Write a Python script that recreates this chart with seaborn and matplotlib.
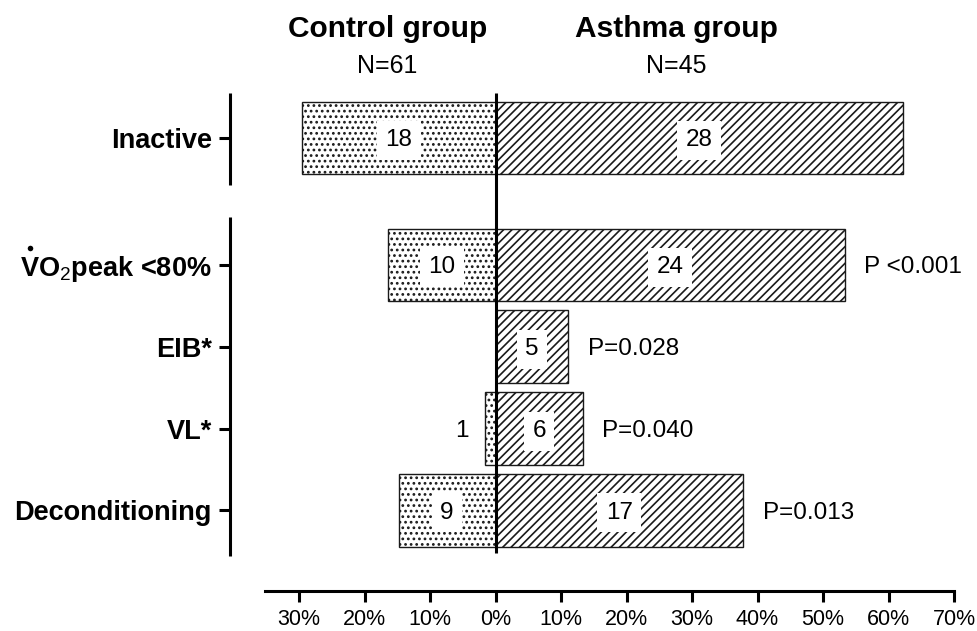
import matplotlib
matplotlib.use("Agg")
import matplotlib.pyplot as plt
import matplotlib.transforms as mtransforms
import pandas as pd
import seaborn as sns

# values (percent of each group, and the counts printed in the bars)
categories = ["Inactive", "VO$_{\\mathrm{2}}$peak <80%", "EIB*", "VL*", "Deconditioning"]
control_pct = [29.5, 16.4, 0.0, 1.6, 14.8]
asthma_pct = [62.2, 53.3, 11.1, 13.3, 37.8]
control_n = [18, 10, 0, 1, 9]
asthma_n = [28, 24, 5, 6, 17]
p_values = ["", "P <0.001", "P=0.028", "P=0.040", "P=0.013"]
x_ticks = [-30, -20, -10, 0, 10, 20, 30, 40, 50, 60, 70]
groups = ["Control group", "Asthma group"]
group_n = ["N=61", "N=45"]

sns.set_style("ticks")
plt.rcParams["font.family"] = ["Liberation Sans", "DejaVu Sans"]
plt.rcParams["mathtext.fontset"] = "custom"
plt.rcParams["mathtext.rm"] = "Liberation Sans"
plt.rcParams["mathtext.bf"] = "Liberation Sans:bold"
plt.rcParams["hatch.linewidth"] = 1.2
plt.rcParams["text.color"] = "black"
plt.rcParams["xtick.color"] = "black"
plt.rcParams["axes.edgecolor"] = "black"

# row layout: gap between "Inactive" and the other four rows
row_pos = [0.0] + [1.548 + i for i in range(4)]

df = pd.DataFrame({
    "row": row_pos,
    "control": [-v for v in control_pct],
    "asthma": asthma_pct,
})

fig = plt.figure(figsize=(9.77, 6.31), dpi=100)
ax = fig.add_axes([265 / 977, 1 - 591 / 631, 689 / 977, 498 / 631])

sns.barplot(data=df, x="control", y="row", orient="y", native_scale=True,
            width=0.885, color="white", edgecolor="#1a1a1a", linewidth=1.0,
            hatch="...", errorbar=None, ax=ax)
sns.barplot(data=df, x="asthma", y="row", orient="y", native_scale=True,
            width=0.885, color="white", edgecolor="#1a1a1a", linewidth=1.0,
            hatch="////", errorbar=None, ax=ax)

ax.set_xlim(-35.2, 70)
ax.set_ylim(5.531, -0.549)
ax.set_xlabel("")
ax.set_ylabel("")
ax.set_yticks([])
ax.set_xticks(x_ticks)
ax.set_xticklabels([f"{abs(t)}%" for t in x_ticks], fontsize=15.5)
ax.tick_params(axis="x", length=8, width=2.2, pad=5, colors="black")
for side in ["left", "top", "right"]:
    ax.spines[side].set_visible(False)
ax.spines["bottom"].set_linewidth(2.2)
ax.spines["bottom"].set_color("black")

# zero line between the two groups
ax.plot([0, 0], [-0.549, row_pos[-1] + 0.52], color="black", lw=2.2,
        solid_capstyle="butt", clip_on=False, zorder=5)

# split y axis drawn by hand, left of the plotting area
trans = mtransforms.blended_transform_factory(ax.transAxes, ax.transData)
sx = (229.5 - 265) / 689
tx = (219 - 265) / 689
lx = (212 - 265) / 689
for y0, y1 in [(row_pos[0] - 0.549, row_pos[0] + 0.574),
               (row_pos[1] - 0.58, row_pos[-1] + 0.555)]:
    ax.plot([sx, sx], [y0, y1], color="black", lw=2.2, transform=trans,
            clip_on=False, solid_capstyle="butt")
ylabels = []
for pos, lab in zip(row_pos, categories):
    ax.plot([sx, tx], [pos, pos], color="black", lw=2.2, transform=trans,
            clip_on=False, solid_capstyle="butt")
    t = ax.text(lx, pos, lab, ha="right", va="center_baseline", fontsize=19.5,
                fontweight="bold", transform=trans)
    ylabels.append(t)

# the dot over the V of VO2 (flow rate)
renderer = fig.canvas.get_renderer()
bb = ylabels[1].get_window_extent(renderer=renderer)
dot_x = bb.x0 + 10
dot_y = trans.transform((0, row_pos[1]))[1] + 17
fx, fy = fig.transFigure.inverted().transform((dot_x, dot_y))
ax.plot([fx], [fy], "o", color="black", ms=4.0, mew=0,
        transform=fig.transFigure, clip_on=False)

box = dict(boxstyle="square,pad=0.35", fc="white", ec="none")
for pos, cp, ap, cn, an, p in zip(row_pos, control_pct, asthma_pct,
                                  control_n, asthma_n, p_values):
    if cn > 0:
        if cp >= 5:
            ax.text(-cp / 2, pos, str(cn), ha="center", va="center_baseline",
                    fontsize=17.5, bbox=box, zorder=6)
        else:
            ax.text(-cp - 3.6, pos, str(cn), ha="center", va="center_baseline",
                    fontsize=17.5, zorder=6)
    ax.text(ap / 2, pos, str(an), ha="center", va="center_baseline",
            fontsize=17.5, bbox=box, zorder=6)
    if p:
        ax.text(ap + 3, pos, p, ha="left", va="center_baseline", fontsize=17.5)

# group headers
for xc, g, n in zip([387.5, 676], groups, group_n):
    fig.text(xc / 977, 1 - 37 / 631, g, ha="center", va="baseline",
             fontsize=21.5, fontweight="bold")
    fig.text(xc / 977, 1 - 73 / 631, n, ha="center", va="baseline", fontsize=18)

fig.savefig("out.png", dpi=100)
